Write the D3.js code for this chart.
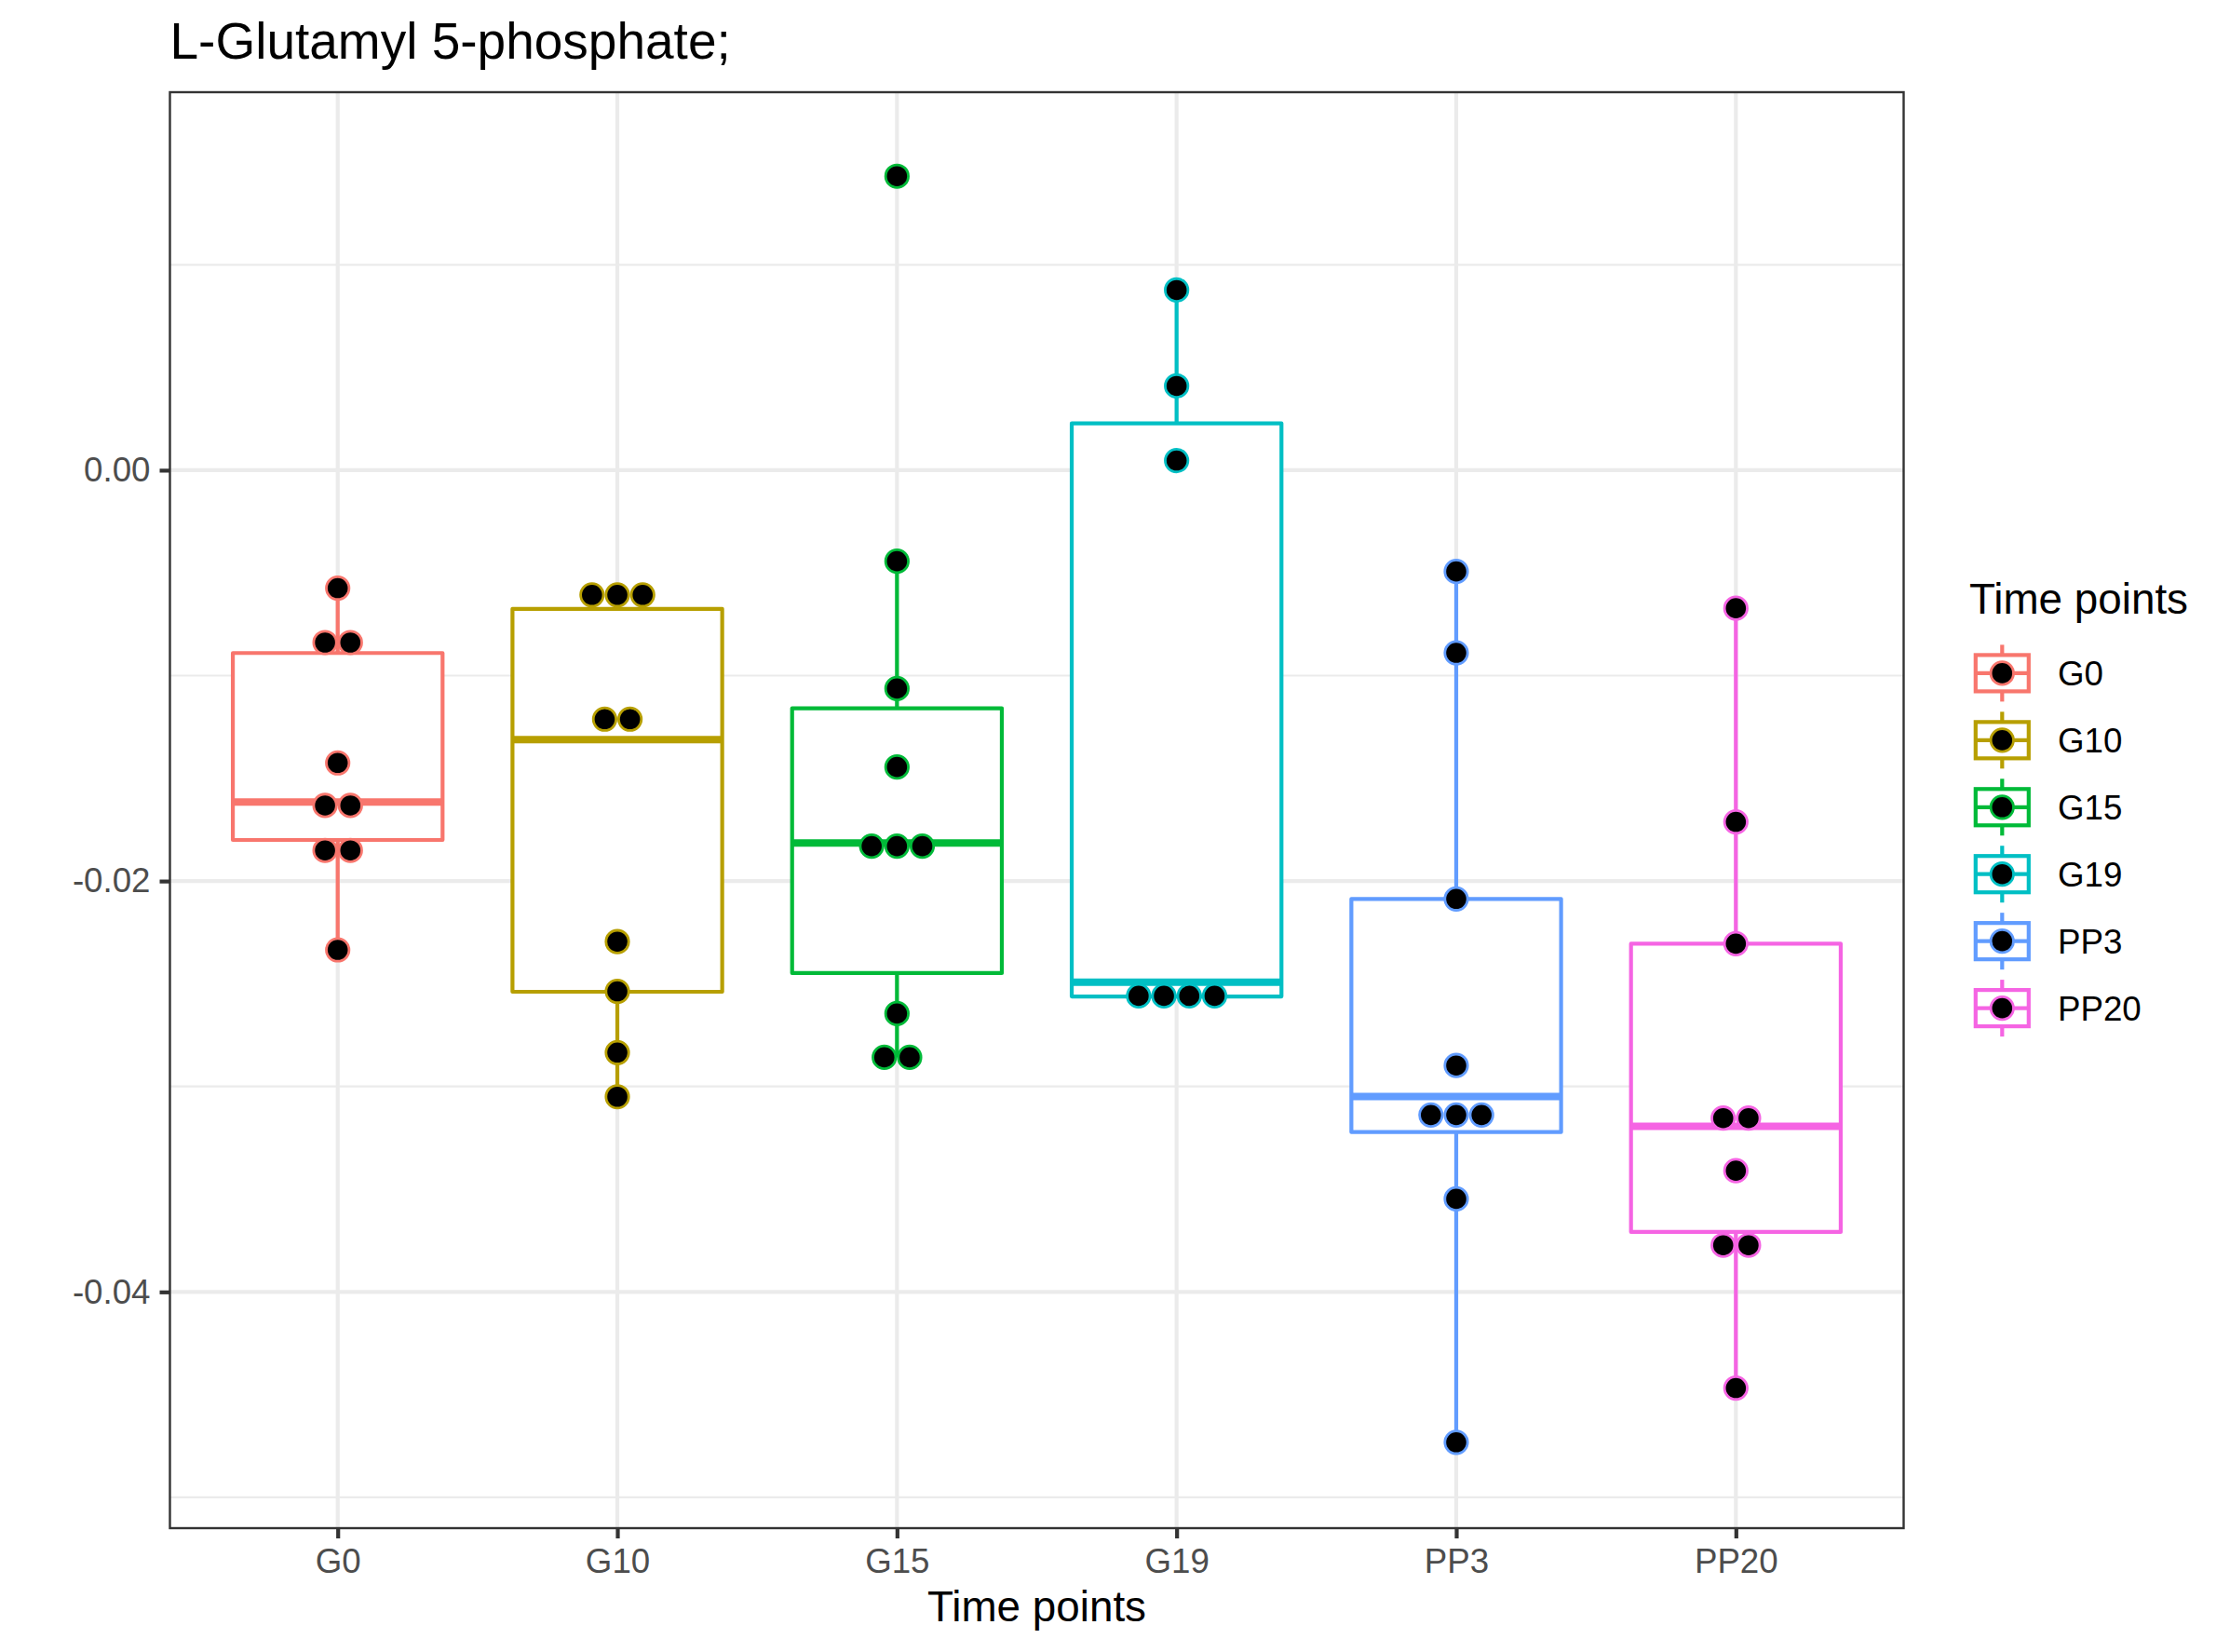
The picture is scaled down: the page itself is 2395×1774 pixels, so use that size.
<!DOCTYPE html>
<html>
<head>
<meta charset="utf-8">
<script src="https://cdn.jsdelivr.net/npm/d3@7"></script>
<style>
  html, body { margin: 0; padding: 0; background: #ffffff; }
  svg { display: block; font-family: "Liberation Sans", Arial, Helvetica, sans-serif; }
</style>
</head>
<body>
<svg id="chart" width="2395" height="1774"></svg>
<script>
// ---------- data ----------
const categories = ["G0", "G10", "G15", "G19", "PP3", "PP20"];
const colors = ["#F8766D", "#B79F00", "#00BA38", "#00BFC4", "#619CFF", "#F564E3"];

// dot (sample) values per group
const ptsG0   = [-0.00574, -0.00839, -0.00839, -0.01425, -0.01632, -0.01632, -0.01851, -0.01851, -0.02335];
const ptsG10  = [-0.00607, -0.00607, -0.00607, -0.01212, -0.01212, -0.02295, -0.02537, -0.02835, -0.0305];
const ptsG15  = [0.01431, -0.00443, -0.01063, -0.01445, -0.0183, -0.0183, -0.0183, -0.02645, -0.02858, -0.02858];
const ptsG19  = [0.00877, 0.0041, 0.00047, -0.02559, -0.02559, -0.02559, -0.02559];
const ptsPP3  = [-0.00493, -0.00889, -0.02087, -0.02898, -0.03139, -0.03139, -0.03139, -0.03547, -0.04732];
const ptsPP20 = [-0.00672, -0.01712, -0.02305, -0.03154, -0.03154, -0.0341, -0.03773, -0.03773, -0.04468];
const points = [ptsG0, ptsG10, ptsG15, ptsG19, ptsPP3, ptsPP20];

// box statistics: [lower whisker, Q1, median, Q3, upper whisker]
const boxG0   = [-0.02335, -0.0180, -0.01615, -0.0089, -0.00574];
const boxG10  = [-0.0305, -0.02539, -0.01312, -0.00675, -0.00607];
const boxG15  = [-0.02858, -0.02448, -0.01815, -0.01159, -0.00443];
const boxG19  = [-0.02562, -0.02562, -0.02492, 0.00228, 0.00877];
const boxPP3  = [-0.04732, -0.03222, -0.03049, -0.02087, -0.00493];
const boxPP20 = [-0.04468, -0.03708, -0.03194, -0.02305, -0.00672];
const boxes = [boxG0, boxG10, boxG15, boxG19, boxPP3, boxPP20];

const yTicks = [0.00, -0.02, -0.04];
const yMinor = [0.01, -0.01, -0.03, -0.05];
const yDomain = [-0.0515, 0.0184];

const titleText = "L-Glutamyl 5-phosphate;";
const xTitle = "Time points";
const legendTitle = "Time points";

// ---------- layout ----------
const panel = { left: 182.5, right: 2044.5, top: 99, bottom: 1641 };
const svg = d3.select("#chart");

const x = d3.scalePoint().domain(categories).range([panel.left, panel.right]).padding(0.6);
const y = d3.scaleLinear().domain(yDomain).range([panel.bottom, panel.top]);
const color = d3.scaleOrdinal().domain(categories).range(colors);
const step = x.step();
const boxW = step * 0.75;
const dotR = 12.2, dotStroke = 2.8, dotStep = 27.2;

// panel background
svg.append("rect").attr("x", panel.left).attr("y", panel.top)
  .attr("width", panel.right - panel.left).attr("height", panel.bottom - panel.top)
  .attr("fill", "#ffffff");

const grid = svg.append("g");
grid.selectAll("line.minor").data(yMinor).enter().append("line")
  .attr("x1", panel.left).attr("x2", panel.right)
  .attr("y1", d => y(d)).attr("y2", d => y(d))
  .attr("stroke", "#EBEBEB").attr("stroke-width", 2.2);
grid.selectAll("line.majy").data(yTicks).enter().append("line")
  .attr("x1", panel.left).attr("x2", panel.right)
  .attr("y1", d => y(d)).attr("y2", d => y(d))
  .attr("stroke", "#EBEBEB").attr("stroke-width", 4.2);
grid.selectAll("line.majx").data(categories).enter().append("line")
  .attr("y1", panel.top).attr("y2", panel.bottom)
  .attr("x1", d => x(d)).attr("x2", d => x(d))
  .attr("stroke", "#EBEBEB").attr("stroke-width", 4.2);

// ---------- boxplots ----------
const bx = svg.append("g");
categories.forEach((c, i) => {
  const b = boxes[i];
  const cx = x(c);
  const col = color(c);
  bx.append("line").attr("x1", cx).attr("x2", cx).attr("y1", y(b[3])).attr("y2", y(b[4]))
    .attr("stroke", col).attr("stroke-width", 4.2);
  bx.append("line").attr("x1", cx).attr("x2", cx).attr("y1", y(b[1])).attr("y2", y(b[0]))
    .attr("stroke", col).attr("stroke-width", 4.2);
  bx.append("rect").attr("x", cx - boxW / 2).attr("width", boxW)
    .attr("y", y(b[3])).attr("height", y(b[1]) - y(b[3]))
    .attr("fill", "#ffffff").attr("stroke", col).attr("stroke-width", 4.2)
    .attr("stroke-linejoin", "round");
  bx.append("line").attr("x1", cx - boxW / 2).attr("x2", cx + boxW / 2)
    .attr("y1", y(b[2])).attr("y2", y(b[2]))
    .attr("stroke", col).attr("stroke-width", 8);
});

// ---------- dots (centre-stacked) ----------
const dg = svg.append("g");
categories.forEach((c, i) => {
  const col = color(c);
  const groups = d3.groups(points[i], v => v);
  groups.forEach(([v, arr]) => {
    const n = arr.length;
    arr.forEach((_, k) => {
      dg.append("circle")
        .attr("cx", x(c) + (k - (n - 1) / 2) * dotStep)
        .attr("cy", y(v))
        .attr("r", dotR)
        .attr("fill", "#000000")
        .attr("stroke", col)
        .attr("stroke-width", dotStroke);
    });
  });
});

// panel border
svg.append("rect").attr("x", panel.left).attr("y", panel.top)
  .attr("width", panel.right - panel.left).attr("height", panel.bottom - panel.top)
  .attr("fill", "none").attr("stroke", "#333333").attr("stroke-width", 2.4);

// ---------- axes ----------
const yAxis = d3.axisLeft(y).tickValues(yTicks).tickFormat(d3.format(".2f")).tickSize(11).tickPadding(10);
const gy = svg.append("g").attr("transform", `translate(${panel.left},0)`).call(yAxis);
gy.select(".domain").remove();
gy.selectAll(".tick line").attr("stroke", "#333333").attr("stroke-width", 4.2);
gy.selectAll(".tick text").attr("fill", "#4D4D4D").attr("font-size", 36.7)
  .attr("font-family", "'Liberation Sans', Arial, Helvetica, sans-serif")
  .text(d => d3.format(".2f")(d).replace("−", "-"));

const xAxis = d3.axisBottom(x).tickSize(11).tickPadding(11);
const gx = svg.append("g").attr("transform", `translate(0,${panel.bottom})`).call(xAxis);
gx.select(".domain").remove();
gx.selectAll(".tick line").attr("stroke", "#333333").attr("stroke-width", 4.2);
gx.selectAll(".tick text").attr("fill", "#4D4D4D").attr("font-size", 36.7)
  .attr("font-family", "'Liberation Sans', Arial, Helvetica, sans-serif");

// axis title
svg.append("text").attr("x", (panel.left + panel.right) / 2).attr("y", 1741)
  .attr("text-anchor", "middle").attr("font-size", 45.8).attr("fill", "#000000")
  .text(xTitle);

// title
svg.append("text").attr("x", panel.left).attr("y", 63)
  .attr("font-size", 55).attr("fill", "#000000").text(titleText);

// ---------- legend ----------
const lg = svg.append("g");
lg.append("text").attr("x", 2115).attr("y", 659).attr("font-size", 45.8).attr("fill", "#000000")
  .text(legendTitle);
const keyX = 2150.3, key0 = 722.9, keyStep = 71.94;
categories.forEach((c, i) => {
  const cy = key0 + i * keyStep;
  const col = color(c);
  lg.append("line").attr("x1", keyX).attr("x2", keyX).attr("y1", cy - 30.5).attr("y2", cy + 30.5)
    .attr("stroke", col).attr("stroke-width", 4.2);
  lg.append("rect").attr("x", keyX - 28.5).attr("y", cy - 19.5).attr("width", 57).attr("height", 39)
    .attr("fill", "#ffffff").attr("stroke", col).attr("stroke-width", 4.2);
  lg.append("line").attr("x1", keyX - 28.5).attr("x2", keyX + 28.5).attr("y1", cy).attr("y2", cy)
    .attr("stroke", col).attr("stroke-width", 4.2);
  lg.append("circle").attr("cx", keyX).attr("cy", cy).attr("r", dotR)
    .attr("fill", "#000000").attr("stroke", col).attr("stroke-width", dotStroke);
  lg.append("text").attr("x", 2210).attr("y", cy + 13).attr("font-size", 36.7).attr("fill", "#000000")
    .text(c);
});
</script>
</body>
</html>
